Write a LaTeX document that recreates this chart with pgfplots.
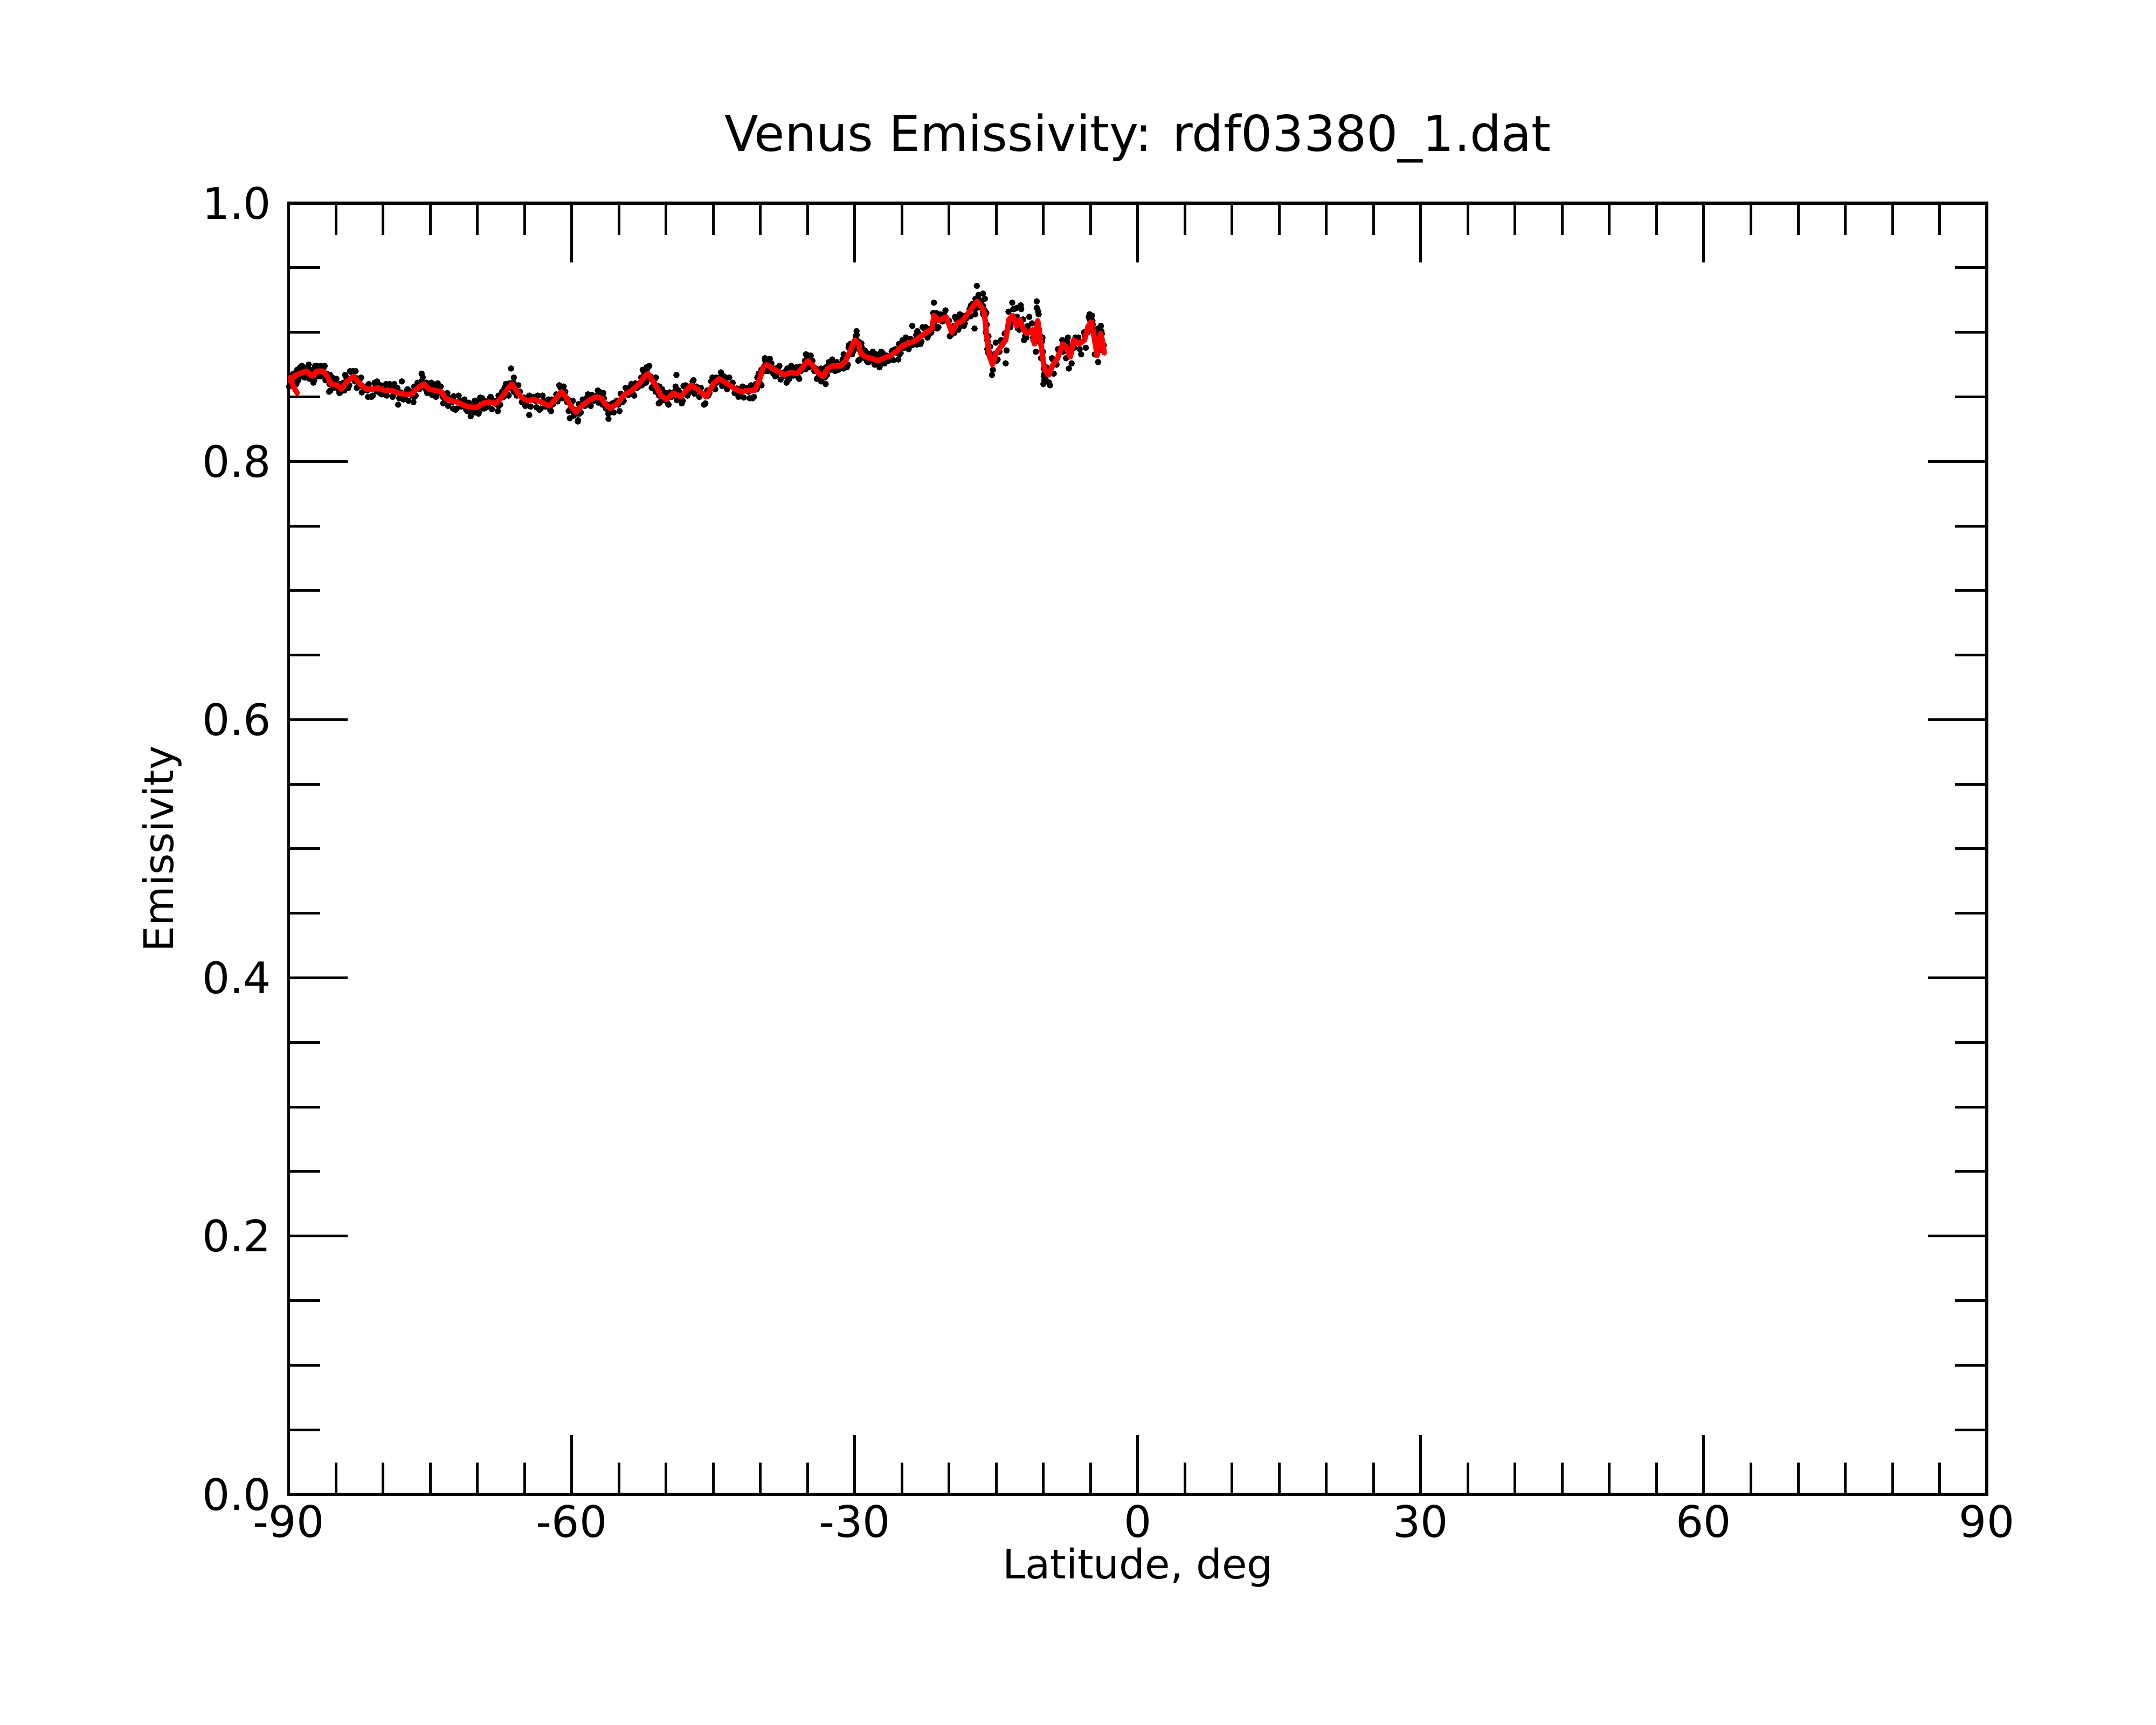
\documentclass[border=0pt]{standalone}
\usepackage{fontspec}
\setmainfont{DejaVu Sans}
\usepackage{pgfplots}
\pgfplotsset{compat=1.18}
\begin{document}
\begin{tikzpicture}
\begin{axis}[
  at={(96.4pt,76.9pt)}, anchor=south west,
  width=567.1pt, height=431.2pt, scale only axis,
  xmin=-90, xmax=90, ymin=0, ymax=1,
  xtick={-90,-60,-30,0,30,60,90},
  minor x tick num=5,
  ytick={0,0.2,0.4,0.6,0.8,1.0},
  minor y tick num=3,
  tick align=inside,
  major tick length=19.7pt, minor tick length=10.6pt,
  every tick/.style={black, line width=0.9pt},
  axis line style={line width=1.05pt},
  /pgf/number format/assume math mode=true,
  tick label style={font=\fontsize{14.5}{17}\selectfont},
  yticklabel style={/pgf/number format/fixed, /pgf/number format/fixed zerofill, /pgf/number format/precision=1, xshift=-2.3pt},
  xticklabel style={/pgf/number format/fixed},
  every axis title shift=0pt,
  title={Venus Emissivity: rdf03380\_1.dat},
  title style={at={(axis description cs:0.5,1.0504)}, anchor=center, font=\fontsize{16.5}{19}\selectfont},
  xlabel={Latitude, deg},
  xlabel style={at={(axis description cs:0.5,-0.0566)}, anchor=center, font=\fontsize{13.6}{16}\selectfont},
  ylabel={Emissivity},
  ylabel style={at={(axis description cs:-0.0744,0.5)}, anchor=center, font=\fontsize{13.6}{16}\selectfont},
  unbounded coords=jump,
  clip=false,
  clip marker paths=true,
]
% raw samples (black)
\addplot[only marks, mark=*, mark size=0.85pt, black, mark options={draw=none}] coordinates {
(-89.88,0.859)(-89.68,0.865)(-89.5,0.859)(-89.48,0.868)(-89.28,0.865)(-89.1,0.871)
(-88.98,0.863)(-88.78,0.873)(-88.6,0.866)(-88.58,0.874)(-88.38,0.866)(-88.2,0.872)
(-88.18,0.868)(-87.98,0.871)(-87.8,0.864)(-87.58,0.869)(-87.38,0.861)(-87.2,0.874)
(-87.03,0.874)(-86.83,0.866)(-86.65,0.871)(-86.48,0.867)(-86.28,0.873)(-86.1,0.863)
(-85.98,0.868)(-85.78,0.865)(-85.6,0.867)(-85.58,0.855)(-85.38,0.865)(-85.2,0.857)
(-84.93,0.864)(-84.73,0.856)(-84.55,0.860)(-84.48,0.854)(-84.28,0.857)(-84.1,0.855)
(-83.88,0.865)(-83.68,0.857)(-83.5,0.870)(-83.18,0.870)(-82.98,0.862)(-82.8,0.8645)
(-82.63,0.858)(-82.43,0.864)(-82.25,0.8535)(-81.88,0.858)(-81.68,0.855)(-81.5,0.860)
(-81.08,0.851)(-80.88,0.861)(-80.7,0.8545)(-80.63,0.862)(-80.43,0.854)(-80.25,0.859)
(-79.98,0.853)(-79.78,0.856)(-79.6,0.851)(-79.18,0.858)(-78.98,0.850)(-78.8,0.860)
(-78.48,0.857)(-78.28,0.849)(-78.1,0.8535)(-77.68,0.849)(-77.48,0.855)(-77.3,0.847)
(-77.08,0.854)(-76.88,0.851)(-76.7,0.858)(-76.53,0.851)(-76.33,0.861)(-76.15,0.856)
(-75.78,0.865)(-75.58,0.857)(-75.4,0.861)(-75.18,0.854)(-74.98,0.857)(-74.8,0.8515)
(-74.58,0.858)(-74.38,0.850)(-74.2,0.8605)(-73.88,0.858)(-73.68,0.850)(-73.6,0.8525)
(-73.48,0.846)(-73.28,0.852)(-73.1,0.843)(-72.88,0.849)(-72.68,0.846)(-72.5,0.8505)
(-72.18,0.841)(-71.98,0.851)(-71.7,0.8425)(-71.38,0.848)(-71.18,0.840)(-70.9,0.8455)
(-70.58,0.840)(-70.38,0.843)(-70.25,0.838)(-70.08,0.845)(-69.88,0.837)(-69.7,0.8495)
(-69.48,0.849)(-69.28,0.841)(-69.1,0.8465)(-68.88,0.843)(-68.68,0.849)(-68.45,0.8405)
(-68.13,0.847)(-67.93,0.844)(-67.75,0.851)(-67.58,0.844)(-67.38,0.854)(-67.2,0.850)
(-66.98,0.860)(-66.78,0.852)(-66.6,0.8605)(-66.43,0.858)(-66.23,0.861)(-66.15,0.854)
(-66.03,0.859)(-65.83,0.851)(-65.65,0.859)(-65.48,0.854)(-65.28,0.846)(-65.05,0.8495)
(-64.78,0.844)(-64.58,0.850)(-64.35,0.8425)(-64.03,0.850)(-63.83,0.847)(-63.6,0.851)
(-63.28,0.841)(-63.08,0.851)(-62.8,0.8425)(-62.48,0.848)(-62.28,0.840)(-62.1,0.848)
(-61.93,0.845)(-61.73,0.848)(-61.5,0.8465)(-61.18,0.857)(-60.98,0.849)(-60.85,0.858)
(-60.68,0.854)(-60.48,0.846)(-60.35,0.8475)(-60.18,0.840)(-59.98,0.846)(-59.8,0.8355)
(-59.63,0.840)(-59.43,0.837)(-59.25,0.8445)(-59.03,0.838)(-58.83,0.848)(-58.6,0.843)
(-58.28,0.852)(-58.08,0.844)(-57.85,0.8515)(-57.53,0.848)(-57.33,0.851)(-57.15,0.8455)
(-56.93,0.852)(-56.73,0.844)(-56.65,0.853)(-56.58,0.849)(-56.38,0.841)(-56.2,0.844)
(-55.98,0.838)(-55.78,0.844)(-55.55,0.838)(-55.23,0.847)(-55.03,0.844)(-54.8,0.8525)
(-54.48,0.847)(-54.28,0.857)(-54.0,0.8515)(-53.68,0.860)(-53.48,0.852)(-53.25,0.8605)
(-52.93,0.858)(-52.73,0.861)(-52.55,0.859)(-52.33,0.869)(-52.13,0.861)(-52.05,0.873)
(-51.98,0.872)(-51.78,0.864)(-51.6,0.8655)(-51.38,0.858)(-51.18,0.864)(-51.1,0.854)
(-51.03,0.859)(-50.83,0.856)(-50.7,0.858)(-50.63,0.846)(-50.43,0.856)(-50.25,0.8475)
(-50.03,0.853)(-49.83,0.845)(-49.6,0.8535)(-49.28,0.851)(-49.08,0.854)(-48.85,0.8475)
(-48.53,0.853)(-48.33,0.845)(-48.15,0.8585)(-47.93,0.859)(-47.73,0.851)(-47.55,0.858)
(-47.38,0.856)(-47.18,0.862)(-47.0,0.8525)(-46.78,0.858)(-46.58,0.855)(-46.3,0.857)
(-45.83,0.845)(-45.63,0.855)(-45.4,0.853)(-45.08,0.865)(-44.88,0.857)(-44.7,0.865)
(-44.48,0.862)(-44.28,0.865)(-44.05,0.8585)(-43.73,0.864)(-43.53,0.856)(-43.3,0.865)
(-42.93,0.861)(-42.73,0.853)(-42.5,0.8565)(-42.18,0.851)(-41.98,0.857)(-41.75,0.8495)
(-41.43,0.857)(-41.23,0.854)(-41.0,0.859)(-40.68,0.850)(-40.48,0.860)(-40.35,0.857)
(-40.18,0.868)(-39.98,0.860)(-39.9,0.871)(-39.78,0.871)(-39.58,0.874)(-39.5,0.870)
(-39.38,0.878)(-39.18,0.870)(-39.0,0.8795)(-38.83,0.876)(-38.63,0.868)(-38.45,0.872)
(-38.28,0.867)(-38.08,0.873)(-37.85,0.8635)(-37.53,0.869)(-37.33,0.866)(-37.15,0.872)
(-36.93,0.864)(-36.73,0.874)(-36.5,0.8665)(-36.18,0.873)(-35.98,0.865)(-35.8,0.8735)
(-35.58,0.871)(-35.38,0.874)(-35.2,0.8715)(-35.03,0.881)(-34.83,0.873)(-34.65,0.882)
(-34.48,0.878)(-34.28,0.870)(-34.1,0.872)(-33.88,0.865)(-33.68,0.871)(-33.55,0.862)
(-33.38,0.868)(-33.18,0.865)(-33.05,0.873)(-32.93,0.867)(-32.73,0.877)(-32.55,0.871)
(-32.38,0.879)(-32.18,0.871)(-31.9,0.877)(-31.58,0.872)(-31.38,0.875)(-31.2,0.872)
(-31.03,0.881)(-30.83,0.873)(-30.65,0.8885)(-30.48,0.891)(-30.28,0.883)(-30.2,0.8915)
(-30.08,0.891)(-29.88,0.897)(-29.75,0.8875)(-29.63,0.893)(-29.43,0.890)(-29.3,0.8915)
(-29.48,0.879)(-29.28,0.889)(-29.1,0.8805)(-28.93,0.886)(-28.73,0.878)(-28.55,0.8835)
(-28.38,0.878)(-28.18,0.881)(-27.9,0.875)(-27.58,0.881)(-27.38,0.873)(-27.2,0.885)
(-27.03,0.884)(-26.83,0.876)(-26.6,0.882)(-26.28,0.879)(-26.08,0.885)(-25.9,0.8785)
(-25.68,0.887)(-25.48,0.884)(-25.3,0.891)(-25.13,0.884)(-24.93,0.894)(-24.75,0.888)
(-24.58,0.896)(-24.38,0.888)(-24.1,0.895)(-23.78,0.891)(-23.58,0.894)(-23.4,0.8905)
(-23.23,0.899)(-23.03,0.891)(-22.8,0.904)(-22.48,0.904)(-22.28,0.896)(-22.1,0.9025)
(-21.88,0.900)(-21.68,0.906)(-21.7,0.903)(-21.68,0.915)(-21.48,0.912)(-21.35,0.915)
(-21.13,0.904)(-20.93,0.914)(-20.7,0.9085)(-20.38,0.917)(-20.18,0.909)(-20.0,0.909)
(-19.78,0.898)(-19.58,0.901)(-19.45,0.8995)(-19.23,0.910)(-19.03,0.902)(-18.85,0.914)
(-18.63,0.913)(-18.43,0.905)(-18.25,0.913)(-18.03,0.912)(-17.83,0.918)(-17.7,0.9125)
(-17.53,0.922)(-17.33,0.919)(-17.2,0.926)(-17.08,0.919)(-16.88,0.929)(-16.75,0.9195)
(-16.58,0.924)(-16.38,0.916)(-16.4,0.9205)(-16.38,0.914)(-16.22,0.917)
(-16.2,0.913)(-16.1,0.900)(-16.0,0.906)(-15.95,0.894)(-15.95,0.887)(-15.82,0.897)
(-15.78,0.885)(-15.6,0.880)(-15.45,0.867)(-15.25,0.883)(-15.05,0.892)(-14.85,0.879)
(-14.65,0.885)(-14.4,0.890)(-14.1,0.899)(-13.9,0.886)(-13.7,0.916)(-13.5,0.904)
(-13.3,0.908)(-13.1,0.918)(-12.9,0.908)(-12.7,0.903)(-12.55,0.902)(-12.35,0.918)
(-12.15,0.910)(-11.95,0.897)(-11.8,0.896)(-11.5,0.901)(-11.2,0.907)(-11.05,0.894)
(-11.0,0.897)(-10.8,0.885)(-10.65,0.904)(-10.5,0.914)(-10.45,0.902)(-10.3,0.897)
(-10.25,0.880)(-10.1,0.896)(-10.05,0.885)(-9.95,0.872)(-9.9,0.868)(-9.7,0.873)
(-9.5,0.872)(-9.3,0.859)(-9.1,0.880)(-8.9,0.868)(-8.6,0.875)(-8.3,0.885)
(-8.0,0.894)(-7.8,0.889)(-7.6,0.880)(-7.4,0.896)(-7.2,0.889)(-7.0,0.876)
(-6.85,0.891)(-6.6,0.896)(-6.3,0.896)(-6.0,0.883)(-5.7,0.900)(-5.5,0.888)
(-5.3,0.900)(-5.1,0.910)(-4.95,0.911)(-4.75,0.906)(-4.55,0.883)(-4.4,0.899)
(-4.35,0.890)(-4.2,0.877)(-4.0,0.896)(-3.85,0.901)(-3.8,0.899)(-3.7,0.886)
(-3.6,0.890)
(-66.43,0.872)(-75.9,0.868)(-78.0,0.862)(-78.4,0.844)(-86.6,0.874)(-82.9,0.870)
(-70.7,0.835)(-51.78,0.874)(-48.9,0.867)(-59.35,0.831)(-56.1,0.833)(-64.5,0.836)
(-60.2,0.8335)(-17.05,0.936)(-21.6,0.923)(-23.9,0.905)(-29.8,0.901)(-34.9,0.882)
(-17.3,0.903)(-10.7,0.924)(-10.7,0.919)(-13.3,0.923)(-12.4,0.921)(-11.5,0.912)
(-10.0,0.860)(-5.1,0.914)(-5.0,0.912)(-4.8,0.909)(-4.2,0.903)(-14.0,0.876)
(-7.3,0.872)(-9.9,0.863)(-9.6,0.862)(-16.4,0.930)(-16.2,0.926)(-12.8,0.919)
(-89.58,0.866)(-89.95,0.858)(-89.18,0.860)(-89.62,0.867)(-88.68,0.869)(-89.12,0.862)
(-88.28,0.865)(-88.72,0.871)(-87.88,0.875)(-88.32,0.867)(-87.28,0.863)(-87.72,0.871)
(-86.73,0.868)(-87.17,0.873)(-86.18,0.874)(-86.62,0.866)(-85.68,0.860)(-86.12,0.867)
(-85.28,0.861)(-85.72,0.854)(-84.63,0.855)(-85.07,0.861)(-84.18,0.861)(-84.62,0.853)
(-83.58,0.859)(-84.02,0.867)(-82.88,0.864)(-83.32,0.869)(-82.33,0.865)(-82.77,0.857)
(-81.58,0.850)(-82.02,0.857)(-80.78,0.857)(-81.22,0.850)(-80.33,0.853)(-80.77,0.859)
(-79.68,0.860)(-80.12,0.852)(-78.88,0.852)(-79.32,0.860)(-78.18,0.851)(-78.62,0.856)
(-77.38,0.856)(-77.82,0.848)(-76.78,0.846)(-77.22,0.853)(-76.23,0.857)(-76.67,0.850)
(-75.48,0.856)(-75.92,0.862)(-74.88,0.861)(-75.32,0.853)(-74.28,0.852)(-74.72,0.860)
(-73.58,0.852)(-74.02,0.857)(-73.18,0.853)(-73.62,0.845)(-72.58,0.841)(-73.02,0.848)
(-71.88,0.847)(-72.32,0.840)(-71.08,0.839)(-71.52,0.845)(-70.28,0.847)(-70.72,0.839)
(-69.78,0.839)(-70.22,0.847)(-69.18,0.843)(-69.62,0.848)(-68.58,0.850)(-69.02,0.842)
(-67.83,0.839)(-68.27,0.846)(-67.28,0.850)(-67.72,0.843)(-66.68,0.851)(-67.12,0.857)
(-66.13,0.865)(-66.57,0.857)(-65.73,0.853)(-66.17,0.861)(-65.18,0.848)(-65.62,0.853)
(-64.48,0.851)(-64.92,0.843)(-63.73,0.842)(-64.17,0.849)(-62.98,0.847)(-63.42,0.840)
(-62.18,0.839)(-62.62,0.845)(-61.63,0.852)(-62.07,0.844)(-60.88,0.851)(-61.32,0.859)
(-60.38,0.848)(-60.82,0.853)(-59.88,0.847)(-60.32,0.839)(-59.33,0.832)(-59.77,0.839)
(-58.73,0.844)(-59.17,0.837)(-57.98,0.843)(-58.42,0.849)(-57.23,0.855)(-57.67,0.847)
(-56.63,0.846)(-57.07,0.854)(-56.28,0.843)(-56.72,0.848)(-55.68,0.845)(-56.12,0.837)
(-54.93,0.839)(-55.37,0.846)(-54.18,0.853)(-54.62,0.846)(-53.38,0.851)(-53.82,0.857)
(-52.63,0.865)(-53.07,0.857)(-52.03,0.863)(-52.47,0.871)(-51.68,0.866)(-52.12,0.871)
(-51.08,0.865)(-51.52,0.857)(-50.73,0.851)(-51.17,0.858)(-50.33,0.852)(-50.77,0.845)
(-49.73,0.844)(-50.17,0.850)(-48.98,0.858)(-49.42,0.850)(-48.23,0.847)(-48.67,0.855)
(-47.63,0.853)(-48.07,0.858)(-47.08,0.863)(-47.52,0.855)(-46.48,0.850)(-46.92,0.857)
(-45.53,0.851)(-45.97,0.844)(-44.78,0.856)(-45.22,0.862)(-44.18,0.869)(-44.62,0.861)
(-43.43,0.858)(-43.87,0.866)(-42.63,0.855)(-43.07,0.860)(-41.88,0.858)(-42.32,0.850)
(-41.13,0.849)(-41.57,0.856)(-40.38,0.856)(-40.82,0.849)(-39.88,0.859)(-40.32,0.865)
(-39.48,0.878)(-39.92,0.870)(-39.08,0.872)(-39.52,0.880)(-38.53,0.870)(-38.97,0.875)
(-37.98,0.874)(-38.42,0.866)(-37.23,0.861)(-37.67,0.868)(-36.63,0.870)(-37.07,0.863)
(-35.88,0.864)(-36.32,0.870)(-35.28,0.878)(-35.72,0.870)(-34.73,0.875)(-35.17,0.883)
(-34.18,0.872)(-34.62,0.877)(-33.58,0.872)(-34.02,0.864)(-33.08,0.860)(-33.52,0.867)
(-32.63,0.873)(-33.07,0.866)(-32.08,0.870)(-32.52,0.876)(-31.28,0.879)(-31.72,0.871)
(-30.73,0.875)(-31.17,0.883)(-30.18,0.885)(-30.62,0.890)(-29.78,0.898)(-30.22,0.890)
(-29.33,0.885)(-29.77,0.892)(-29.18,0.885)(-29.62,0.878)(-28.63,0.877)(-29.07,0.883)
(-28.08,0.885)(-28.52,0.877)(-27.28,0.875)(-27.72,0.883)(-26.73,0.878)(-27.17,0.883)
(-25.98,0.886)(-26.42,0.878)(-25.38,0.879)(-25.82,0.886)(-24.83,0.890)(-25.27,0.883)
(-24.28,0.887)(-24.72,0.893)(-23.48,0.898)(-23.92,0.890)(-22.93,0.893)(-23.37,0.901)
(-22.18,0.898)(-22.62,0.903)(-21.58,0.907)(-22.02,0.899)(-20.83,0.910)(-21.27,0.903)
(-20.08,0.908)(-20.52,0.914)(-19.48,0.905)(-19.92,0.897)(-18.93,0.904)(-19.37,0.912)
(-18.33,0.907)(-18.77,0.912)(-17.73,0.919)(-18.17,0.911)(-17.23,0.914)(-17.67,0.921)
(-16.78,0.925)(-17.22,0.918)(-16.28,0.915)(-16.72,0.921)
(-16.05,0.915)(-15.9,0.893)(-15.85,0.884)(-15.65,0.889)(-15.35,0.871)(-14.95,0.878)
(-14.5,0.894)(-13.95,0.900)(-13.6,0.904)(-13.2,0.918)(-12.8,0.912)(-12.45,0.905)
(-12.05,0.894)(-11.65,0.905)(-11.1,0.896)(-10.9,0.899)(-10.55,0.916)(-10.35,0.892)
(-10.15,0.893)(-9.95,0.866)(-9.8,0.864)(-9.4,0.861)(-9.0,0.879)(-8.45,0.887)
(-7.9,0.885)(-7.5,0.893)(-7.1,0.885)(-6.75,0.888)(-6.15,0.887)(-5.6,0.897)
(-5.2,0.912)(-4.85,0.913)(-4.45,0.895)(-4.25,0.885)(-3.9,0.905)(-3.72,0.890)
};
% smoothed (red)
\addplot[red, line width=1.8pt, line join=round, line cap=round] coordinates {
(-89.8,0.865)(-89.6,0.860)(-89.35,0.856)(-89.1,0.853)(-89.1,nan)
(-89.8,0.862)(-89.4,0.866)(-88.9,0.868)(-88.5,0.869)(-88.1,0.870)(-87.5,0.866)
(-86.95,0.870)(-86.4,0.870)(-85.9,0.866)(-85.5,0.860)(-84.85,0.859)(-84.4,0.856)
(-83.8,0.862)(-83.1,0.866)(-82.55,0.861)(-81.8,0.856)(-81.0,0.856)(-80.55,0.857)
(-79.9,0.855)(-79.1,0.855)(-78.4,0.853)(-77.6,0.852)(-77.0,0.852)(-76.45,0.856)
(-75.7,0.860)(-75.1,0.856)(-74.5,0.855)(-73.8,0.854)(-73.4,0.849)(-72.8,0.847)
(-72.1,0.846)(-71.3,0.843)(-70.5,0.842)(-70.0,0.842)(-69.4,0.845)(-68.8,0.846)
(-68.05,0.845)(-67.5,0.849)(-66.9,0.855)(-66.35,0.860)(-65.95,0.856)(-65.4,0.850)
(-64.7,0.847)(-63.95,0.848)(-63.2,0.846)(-62.4,0.843)(-61.85,0.847)(-61.1,0.854)
(-60.6,0.850)(-60.1,0.843)(-59.55,0.838)(-58.95,0.843)(-58.2,0.847)(-57.45,0.850)
(-56.85,0.849)(-56.5,0.845)(-55.9,0.841)(-55.15,0.845)(-54.4,0.852)(-53.6,0.855)
(-52.85,0.860)(-52.25,0.866)(-51.9,0.868)(-51.3,0.861)(-50.95,0.857)(-50.55,0.851)
(-49.95,0.848)(-49.2,0.853)(-48.45,0.850)(-47.85,0.855)(-47.3,0.859)(-46.7,0.856)
(-45.75,0.850)(-45.0,0.860)(-44.4,0.864)(-43.65,0.861)(-42.85,0.857)(-42.1,0.854)
(-41.35,0.855)(-40.6,0.855)(-40.1,0.863)(-39.7,0.873)(-39.3,0.875)(-38.75,0.872)
(-38.2,0.870)(-37.45,0.867)(-36.85,0.869)(-36.1,0.868)(-35.5,0.873)(-34.95,0.878)
(-34.4,0.874)(-33.8,0.868)(-33.3,0.866)(-32.85,0.872)(-32.3,0.874)(-31.5,0.874)
(-30.95,0.878)(-30.4,0.887)(-30.0,0.894)(-29.55,0.891)(-29.4,0.884)(-28.85,0.881)
(-28.3,0.880)(-27.5,0.878)(-26.95,0.880)(-26.2,0.882)(-25.6,0.885)(-25.05,0.889)
(-24.5,0.891)(-23.7,0.893)(-23.15,0.896)(-22.4,0.900)(-21.8,0.903)(-21.6,0.913)
(-21.05,0.909)(-20.3,0.912)(-19.7,0.900)(-19.15,0.907)(-18.55,0.909)(-17.95,0.915)
(-17.45,0.920)(-17.0,0.924)(-16.5,0.919)(-16.3,0.916)(-16.15,0.908)(-16.05,0.900)
(-15.9,0.892)(-15.72,0.882)(-15.4,0.875)(-15.0,0.884)(-14.6,0.888)(-14.0,0.894)
(-13.65,0.910)(-13.25,0.913)(-12.85,0.905)(-12.5,0.910)(-12.1,0.902)(-11.75,0.899)
(-11.15,0.902)(-10.95,0.891)(-10.6,0.909)(-10.4,0.899)(-10.2,0.888)(-10.0,0.877)
(-9.85,0.871)(-9.45,0.867)(-9.05,0.874)(-8.5,0.880)(-7.95,0.891)(-7.55,0.888)
(-7.15,0.881)(-6.8,0.894)(-6.2,0.891)(-5.65,0.894)(-5.25,0.905)(-4.9,0.908)
(-4.5,0.891)(-4.3,0.882)(-3.95,0.899)(-3.75,0.894)(-3.55,0.884)
};
\end{axis}
\pgfresetboundingbox
\path[use as bounding box] (0,0) rectangle (720pt,576pt);
\end{tikzpicture}
\end{document}
